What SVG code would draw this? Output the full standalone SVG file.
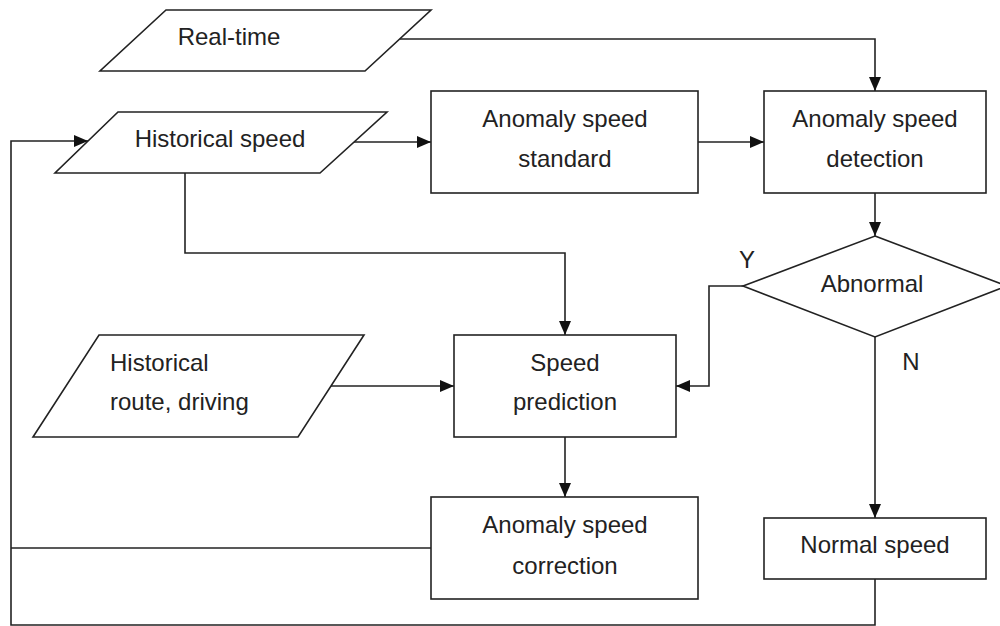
<svg xmlns="http://www.w3.org/2000/svg" width="1000" height="626" viewBox="0 0 1000 626">
<style>
.s{fill:#fff;stroke:#222;stroke-width:1.6}
.c{fill:none;stroke:#222;stroke-width:1.6}
text{font-family:"Liberation Sans",Arial,sans-serif;font-size:24px;fill:#222}
.m{text-anchor:middle}
</style>
<defs>
<marker id="ah" markerUnits="userSpaceOnUse" markerWidth="15" markerHeight="14" refX="14" refY="6.5" orient="auto">
<path d="M0,0.5 L14,6.5 L0,12.5 z" fill="#111"/>
</marker>
</defs>
<rect width="1000" height="626" fill="#fff"/>
<g id="connectors">
<polyline class="c" points="400,39 875,39 875,91" marker-end="url(#ah)"/>
<line class="c" x1="354" y1="142" x2="431" y2="142" marker-end="url(#ah)"/>
<line class="c" x1="698" y1="142" x2="764" y2="142" marker-end="url(#ah)"/>
<line class="c" x1="875" y1="193" x2="875" y2="236" marker-end="url(#ah)"/>
<polyline class="c" points="185,173 185,253 565,253 565,335" marker-end="url(#ah)"/>
<line class="c" x1="331" y1="386" x2="454" y2="386" marker-end="url(#ah)"/>
<polyline class="c" points="743,286 709,286 709,386 676,386" marker-end="url(#ah)"/>
<line class="c" x1="565" y1="437" x2="565" y2="497" marker-end="url(#ah)"/>
<line class="c" x1="875" y1="337" x2="875" y2="518" marker-end="url(#ah)"/>
<polyline class="c" points="875,579 875,625 11,625 11,141 88,141" marker-end="url(#ah)"/>
<line class="c" x1="431" y1="548" x2="11" y2="548"/>
<text x="747" y="268" class="m">Y</text>
<text x="911" y="370" class="m">N</text>
</g>
<g id="realtime">
<polygon class="s" points="166,10 431,10 365,71 100,71"/>
<text x="229" y="45" class="m">Real-time</text>
</g>
<g id="historical-speed">
<polygon class="s" points="118,112 387,112 320,173 55,173"/>
<text x="220" y="147" class="m">Historical speed</text>
</g>
<g id="standard">
<rect class="s" x="431" y="91" width="267" height="102"/>
<text x="565" y="127" class="m">Anomaly speed</text>
<text x="565" y="167" class="m">standard</text>
</g>
<g id="detection">
<rect class="s" x="764" y="91" width="222" height="102"/>
<text x="875" y="127" class="m">Anomaly speed</text>
<text x="875" y="167" class="m">detection</text>
</g>
<g id="abnormal">
<polygon class="s" points="875,236 1007,286 875,337 743,286"/>
<text x="872" y="292" class="m">Abnormal</text>
</g>
<g id="historical-route">
<polygon class="s" points="99,335 364,335 298,437 33,437"/>
<text x="110" y="371">Historical</text>
<text x="110" y="410">route, driving</text>
</g>
<g id="prediction">
<rect class="s" x="454" y="335" width="222" height="102"/>
<text x="565" y="371" class="m">Speed</text>
<text x="565" y="410" class="m">prediction</text>
</g>
<g id="correction">
<rect class="s" x="431" y="497" width="267" height="102"/>
<text x="565" y="533" class="m">Anomaly speed</text>
<text x="565" y="574" class="m">correction</text>
</g>
<g id="normal">
<rect class="s" x="764" y="518" width="222" height="61"/>
<text x="875" y="553" class="m">Normal speed</text>
</g>
</svg>
